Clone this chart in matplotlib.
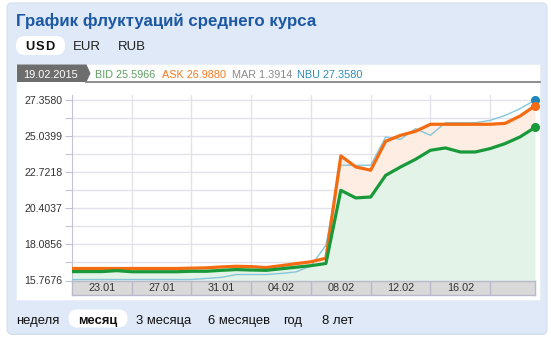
import numpy as np
import matplotlib
matplotlib.use('Agg')
import matplotlib.pyplot as plt
from matplotlib.patches import FancyBboxPatch, Rectangle, Polygon

plt.rcParams['font.family'] = ['Liberation Sans', 'DejaVu Sans']

# данные: 19.01.2015 ... 19.02.2015, по дням
dates = ['19.01', '20.01', '21.01', '22.01', '23.01', '24.01', '25.01', '26.01',
         '27.01', '28.01', '29.01', '30.01', '31.01', '01.02', '02.02', '03.02',
         '04.02', '05.02', '06.02', '07.02', '08.02', '09.02', '10.02', '11.02',
         '12.02', '13.02', '14.02', '15.02', '16.02', '17.02', '18.02', '19.02']
ask = [16.54, 16.54, 16.54, 16.54, 16.54, 16.54, 16.54, 16.54,
       16.56, 16.58, 16.64, 16.68, 16.66, 16.60, 16.72, 16.85,
       16.97, 17.20, 23.77, 23.06, 22.85, 24.71, 25.09, 25.35,
       25.80, 25.80, 25.80, 25.80, 25.80, 25.86, 26.33, 26.988]
bid = [16.34, 16.34, 16.34, 16.40, 16.33, 16.33, 16.33, 16.33,
       16.36, 16.36, 16.42, 16.47, 16.44, 16.42, 16.52, 16.62,
       16.72, 16.86, 21.56, 21.07, 21.13, 22.52, 23.06, 23.55,
       24.13, 24.28, 24.02, 24.02, 24.24, 24.56, 24.99, 25.5966]
nbu = [15.82, 15.83, 15.83, 15.83, 15.83, 15.83, 15.83, 15.83,
       15.83, 15.90, 15.97, 16.15, 16.15, 16.15, 16.22, 16.32,
       16.70, 18.03, 23.17, 23.17, 23.17, 24.98, 24.83, 25.52,
       25.09, 25.90, 25.90, 25.90, 26.05, 26.37, 26.80, 27.358]
y_ticks = [15.7676, 18.0856, 20.4037, 22.7218, 25.0399, 27.3580]
x_labels = ['23.01', '27.01', '31.01', '04.02', '08.02', '12.02', '16.02']
tabs_top = ['USD', 'EUR', 'RUB']
tabs_bottom = ['неделя', 'месяц', '3 месяца', '6 месяцев', 'год', '8 лет']

W, H = 551, 341
fig = plt.figure(figsize=(W / 100, H / 100), dpi=100)


def box(x0, y0, x1, y1):
    return [x0 / W, 1 - y1 / H, (x1 - x0) / W, (y1 - y0) / H]


# фон в пиксельных координатах
bg = fig.add_axes([0, 0, 1, 1])
bg.set_xlim(0, W)
bg.set_ylim(H, 0)
bg.axis('off')

bg.add_patch(FancyBboxPatch((8, 5), 539, 330, boxstyle='round,pad=0,rounding_size=5',
                            fc='#d5dbe3', ec='none'))
bg.add_patch(FancyBboxPatch((7, 3), 540, 331, boxstyle='round,pad=0,rounding_size=5',
                            fc='#dfe9f7', ec='#d3e0f1', lw=0.8))
bg.text(16.5, 26, 'График флуктуаций среднего курса', fontsize=12.2, fontweight='bold',
        color='#1c58a3', va='baseline')

# вкладки валют
bg.add_patch(FancyBboxPatch((16, 36), 49, 19, boxstyle='round,pad=0,rounding_size=9',
                            fc='white', ec='none'))
for lx, ch in zip([25, 35.4, 45.2], tabs_top[0]):
    bg.text(lx, 50, ch, fontsize=9.3, fontweight='bold', color='#111', va='baseline')
bg.text(73, 50, tabs_top[1], fontsize=9.5, color='#222', va='baseline')
bg.text(118, 50, tabs_top[2], fontsize=9.5, color='#222', va='baseline')

# белая панель графика
bg.add_patch(Rectangle((16, 64), 524, 236, fc='white', ec='#e8edf5', lw=0.6))
bg.add_patch(Polygon([(17, 64.5), (86.5, 64.5), (90.5, 73.3), (86.5, 82), (17, 82)],
                     closed=True, fc='#6d6d6d', ec='none'))
bg.plot([86, 540], [82.3, 82.3], color='#7a7a7a', lw=1.2)
bg.text(23.5, 77.5, '19.02.2015', fontsize=7.9, color='white', va='baseline')
bg.text(95, 77.5, 'BID %.4f' % bid[-1], fontsize=7.8, color='#5f9e5f', va='baseline')
bg.text(162.5, 77.5, 'ASK %.4f' % ask[-1], fontsize=7.8, color='#f4791f', va='baseline')
bg.text(232, 77.5, 'MAR 1.3914', fontsize=7.8, color='#8a8a8a', va='baseline')
bg.text(297, 77.5, 'NBU %.4f' % nbu[-1], fontsize=7.8, color='#2d8cbc', va='baseline')

# нижние вкладки периодов
bg.add_patch(FancyBboxPatch((68.5, 309.5), 59, 18, boxstyle='round,pad=0,rounding_size=9',
                            fc='white', ec='none'))
tab_x = [16, 78, 136.5, 208.5, 283, 322.5]
for tx, tl in zip(tab_x, tabs_bottom):
    bg.text(tx, 324, tl, fontsize=9.4, color='#111',
            fontweight='bold' if tl == 'месяц' else 'normal', va='baseline')

# основной график
x = np.arange(len(dates))
ymin = y_ticks[0]
ymax = y_ticks[-1] + 5 * (y_ticks[-1] - y_ticks[0]) / 180.0
ax = fig.add_axes(box(72, 95, 535, 280.5))
ax.set_facecolor('white')
ax.set_xlim(0, len(dates) - 1)
ax.set_ylim(ymin, ymax)

ax.fill_between(x, ymin, bid, color='#e4f3e8', lw=0)
ax.fill_between(x, bid, ask, color='#fdede2', lw=0)
ax.plot(x, nbu, color='#86c6da', lw=1.0, zorder=3)
ax.plot(x, ask, color='#f46b12', lw=2.3, zorder=4, solid_joinstyle='round')
ax.plot(x, bid, color='#199a3a', lw=2.3, zorder=4, solid_joinstyle='round')
for ser, col in [(nbu, '#1f86b8'), (ask, '#f46b12'), (bid, '#199a3a')]:
    ax.plot(x[-1], ser[-1], 'o', color=col, ms=5.5, zorder=5, clip_on=False)

minor = [(a + b) / 2 for a, b in zip(y_ticks[:-1], y_ticks[1:])]
ax.set_yticks(y_ticks)
ax.set_yticklabels(['%.4f' % v for v in y_ticks])
ax.set_yticks(minor, minor=True)
grid_x = [dates.index(d) for d in x_labels]
ax.set_xticks(grid_x)
ax.set_xticklabels([])
ax.tick_params(axis='x', length=0)
ax.tick_params(axis='y', which='both', length=5, color='#c3c3d3', width=0.8,
               labelsize=7.6, labelcolor='#333333', pad=2)
ax.grid(True, which='both', color='#e2e2ea', lw=1.0)
ax.set_axisbelow(True)
for s in ['top', 'right', 'bottom']:
    ax.spines[s].set_visible(False)
ax.spines['left'].set_color('#c3c3d3')

# полоса дат
band = fig.add_axes(box(72, 280.5, 535, 295))
band.set_facecolor('#d9d9d9')
band.set_xlim(0, len(dates) - 1)
band.set_ylim(0, 1)
band.set_xticks([])
band.set_yticks([])
for s in band.spines.values():
    s.set_color('#b9b9cb')
    s.set_linewidth(1.0)
for gx, lab in zip(grid_x, x_labels):
    band.axvline(gx, color='#b9b9cb', lw=1.0)
    band.text(gx - 2, 0.45, lab, fontsize=7.8, color='#333333', ha='center', va='center')

fig.savefig('out.png', dpi=100)
